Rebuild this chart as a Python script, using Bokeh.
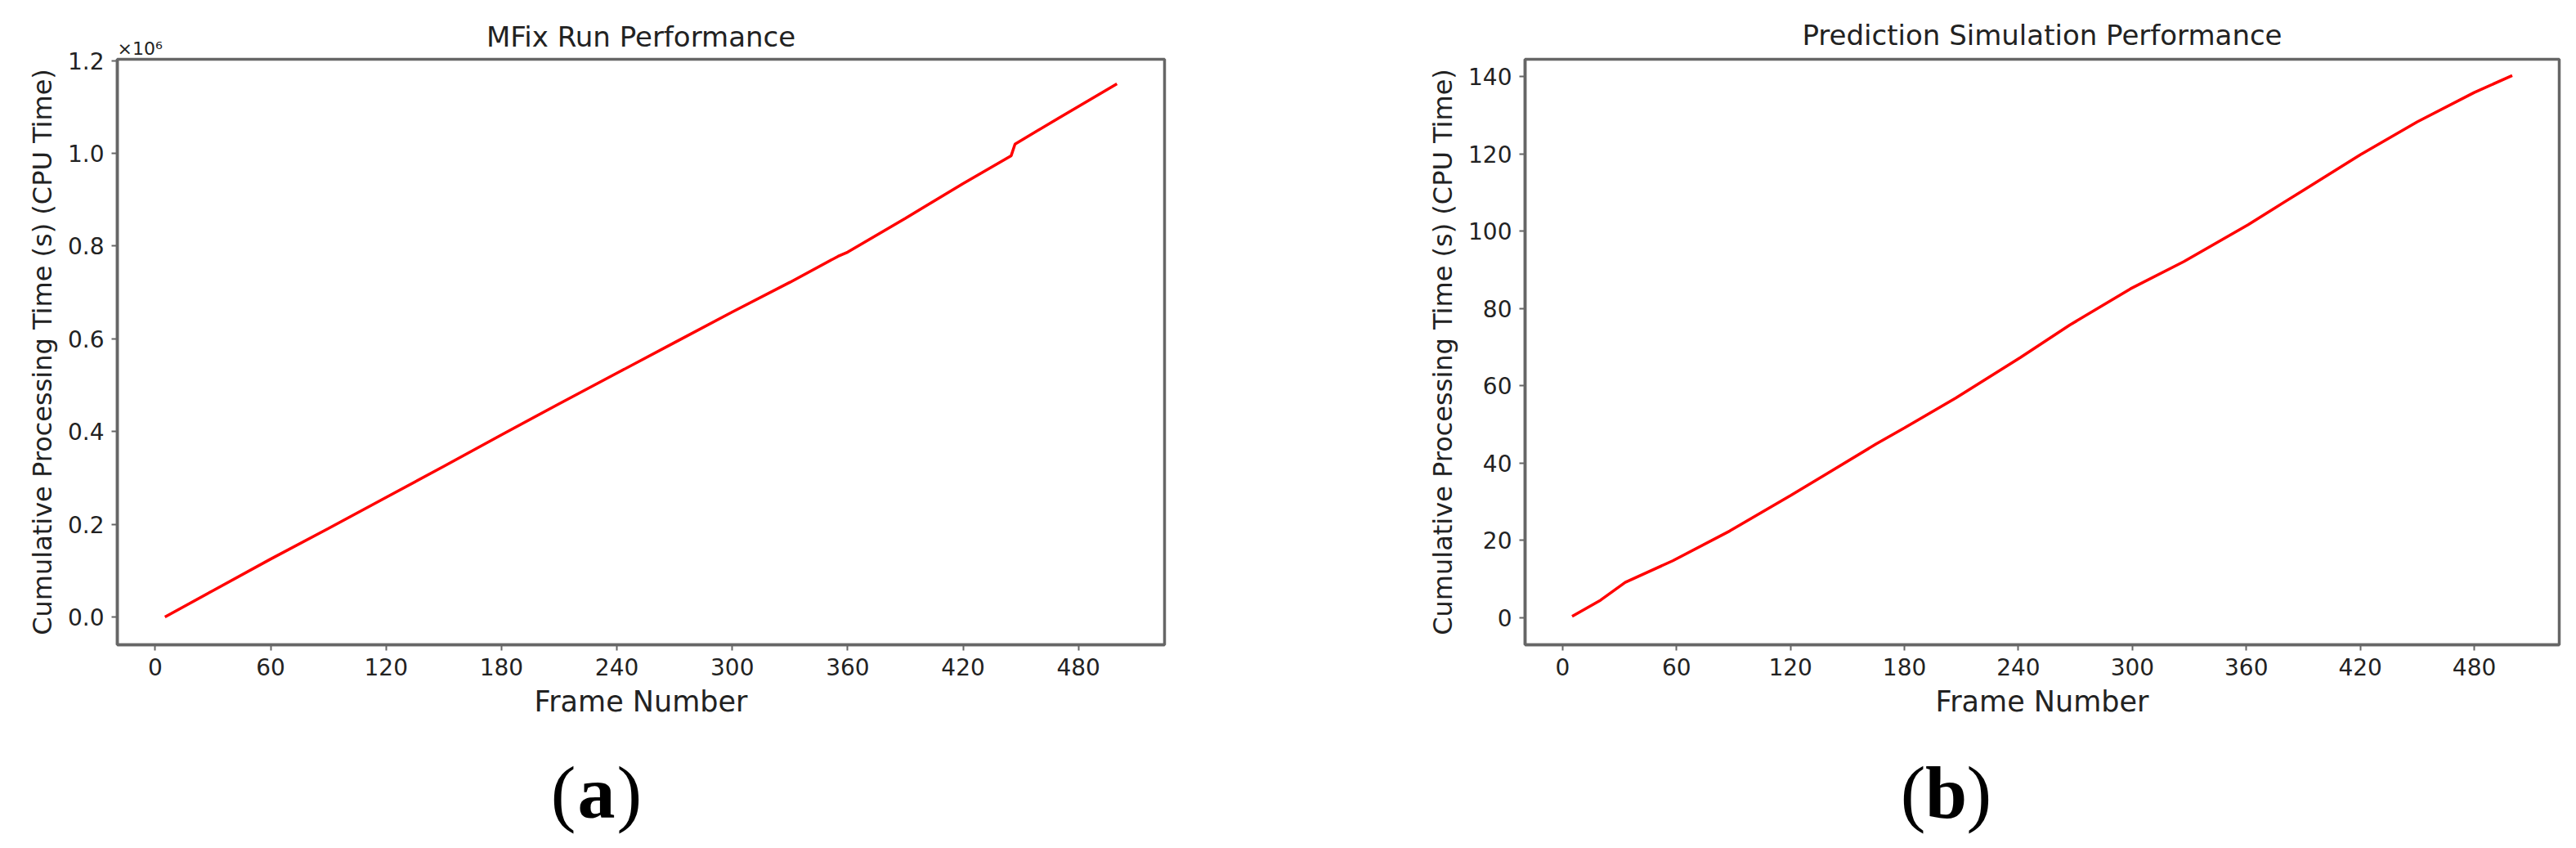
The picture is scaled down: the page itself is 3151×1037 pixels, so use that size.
from bokeh.plotting import figure
from bokeh.layouts import column, row
from bokeh.models import Range1d, FixedTicker, NumeralTickFormatter, Title
from bokeh.core.properties import value
from bokeh.embed import file_html
from bokeh.resources import INLINE

# ---------------- data ----------------
# (a) MFix run: cumulative CPU time, in units of 10^6 s
mfix_frame = [5, 30, 60, 90, 120, 150, 180, 210, 240, 270, 300, 330, 355, 360,
              390, 420, 445, 447, 470, 500]
mfix_cpu_1e6 = [0.0, 0.057, 0.125, 0.191, 0.258, 0.325, 0.393, 0.460, 0.526, 0.592,
                0.658, 0.722, 0.778, 0.787, 0.860, 0.935, 0.995, 1.020, 1.077,
                1.150]

# (b) Prediction simulation: cumulative CPU time, s
pred_frame = [5, 20, 33, 58, 88, 120, 139, 165, 180, 207, 241, 267, 299, 327,
              361, 390, 420, 450, 480, 500]
pred_cpu_s = [0.3, 4.5, 9.1, 14.7, 22.4, 31.6, 37.2, 44.9, 49.1, 56.8, 67.3, 75.7,
              85.1, 92.1, 101.7, 110.6, 119.8, 128.3, 135.9, 140.3]

x_ticks = [0, 60, 120, 180, 240, 300, 360, 420, 480]
a_y_ticks = [0.0, 0.2, 0.4, 0.6, 0.8, 1.0, 1.2]
b_y_ticks = [0, 20, 40, 60, 80, 100, 120, 140]

titles = ["MFix Run Performance", "Prediction Simulation Performance"]
x_label = "Frame Number"
y_label = "Cumulative Processing Time (s) (CPU Time)"
a_offset_text = "×10⁶"
captions = ["a", "b"]

SPINE = "#666666"
FONT = "DejaVu Sans"


def style(p, title_text):
    p.title.text = title_text
    p.title.text_font = FONT
    p.title.text_font_size = "34px"
    p.title.text_font_style = "normal"
    p.title.text_color = "#222222"
    p.title.align = "center"
    p.title.standoff = 8
    p.outline_line_color = SPINE
    p.outline_line_width = 3.5
    p.outline_line_alpha = 1.0
    p.grid.visible = False
    p.background_fill_color = "white"
    p.border_fill_color = "white"
    for ax in (p.xaxis[0], p.yaxis[0]):
        ax.axis_line_color = SPINE
        ax.axis_line_width = 3.5
        ax.major_tick_line_color = SPINE
        ax.major_tick_line_width = 2
        ax.major_tick_out = 7
        ax.major_tick_in = 0
        ax.minor_tick_line_color = None
        ax.major_label_text_font = FONT
        ax.major_label_text_font_size = "28px"
        ax.major_label_text_color = "#222222"
        ax.major_label_standoff = 9
        ax.axis_label_text_font = FONT
        ax.axis_label_text_font_style = "normal"
        ax.axis_label_text_color = "#222222"
        ax.axis_label_standoff = 9
    p.xaxis[0].axis_label = x_label
    p.xaxis[0].axis_label_text_font_size = "35px"
    p.yaxis[0].axis_label = y_label
    p.yaxis[0].axis_label_text_font_size = "32px"
    p.xaxis[0].ticker = FixedTicker(ticks=x_ticks)


FIG_H = 900

# panel (a)
pa = figure(width=1600, height=FIG_H, output_backend="svg", toolbar_location=None,
            x_range=Range1d(-19.75, 524.75), y_range=Range1d(-0.06, 1.203),
            min_border_left=143, min_border_right=176, min_border_top=72,
            min_border_bottom=112)
style(pa, titles[0])
pa.title.standoff = -42
pa.yaxis[0].ticker = FixedTicker(ticks=a_y_ticks)
pa.yaxis[0].formatter = NumeralTickFormatter(format="0.0")
pa.line(mfix_frame, mfix_cpu_1e6, line_color="#ff0000", line_width=3.5)
pa.add_layout(Title(text=a_offset_text, align="left", text_font=FONT,
                    text_font_size="22px", text_font_style="normal",
                    text_color="#222222", standoff=2), "above")

# panel (b)
pb = figure(width=1551, height=FIG_H, output_backend="svg", toolbar_location=None,
            x_range=Range1d(-19.75, 524.75), y_range=Range1d(-7.05, 144.5),
            min_border_left=265, min_border_right=21, min_border_top=60,
            min_border_bottom=112)
style(pb, titles[1])
pb.title.standoff = 19
pb.yaxis[0].ticker = FixedTicker(ticks=b_y_ticks)
pb.line(pred_frame, pred_cpu_s, line_color="#ff0000", line_width=3.5)

# captions
CAP_W, CAP_H = 3151, 136
pc = figure(width=CAP_W, height=CAP_H, output_backend="svg", toolbar_location=None,
            x_range=Range1d(0, CAP_W), y_range=Range1d(0, CAP_H),
            x_axis_type=None, y_axis_type=None, title_location=None,
            min_border=0, min_border_left=0, min_border_right=0,
            min_border_top=0, min_border_bottom=0)
pc.grid.visible = False
pc.outline_line_color = None
cap_centers = [729, 2380]
cap_base = 68
serif = value("Liberation Serif")
pc.text(x=cap_centers, y=[cap_base] * 2, text=captions, text_font=serif,
        text_font_size="92px", text_font_style="bold", text_align="center",
        text_baseline="alphabetic", text_color="black")
pc.text(x=[c - 25 for c in cap_centers], y=[cap_base] * 2, text=["(", "("],
        text_font=serif, text_font_size="92px", text_align="right",
        text_baseline="alphabetic", text_color="black")
pc.text(x=[c + 25 for c in cap_centers], y=[cap_base] * 2, text=[")", ")"],
        text_font=serif, text_font_size="92px", text_align="left",
        text_baseline="alphabetic", text_color="black")

layout = column(row(pa, pb), pc)
open("out.html", "w").write(file_html(layout, INLINE))
